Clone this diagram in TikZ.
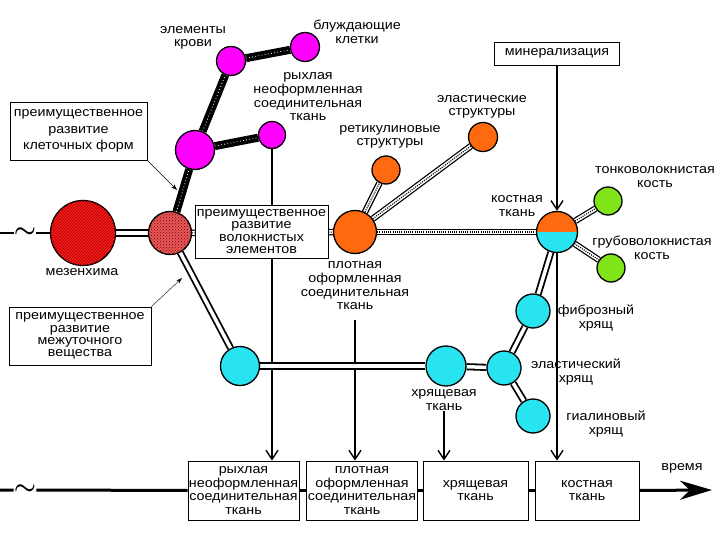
\documentclass[tikz,border=0pt]{standalone}
\usepackage{fontspec}
\setmainfont[FakeStretch=1.1]{Liberation Sans}
\usepackage{tikz}
\usetikzlibrary{arrows.meta,patterns,backgrounds}
\definecolor{mag}{RGB}{255,0,255}
\definecolor{orng}{RGB}{255,106,16}
\definecolor{cyn}{RGB}{40,228,240}
\definecolor{grn}{RGB}{128,228,24}
\definecolor{mesred}{RGB}{255,28,28}
\definecolor{dotred}{RGB}{232,88,88}
\tikzset{cell/.style={draw,circle,line width=1.3pt,inner sep=0pt}}
\tikzset{plain/.style={draw,line width=0.8pt,fill=white,align=center,inner sep=1pt}}
\tikzset{lbl/.style={align=center,inner sep=0pt}}
\tikzset{cellline/.style={line width=8pt,draw=black,postaction={draw=white,line width=0.8pt,dash pattern=on 0.8pt off 2.4pt}}}
\tikzset{fibre/.style={line width=6.5pt,draw=black,postaction={draw=white,line width=4pt},postaction={draw=black,line width=1.2pt,dash pattern=on 1pt off 1.2pt}}}
\tikzset{substance/.style={double,double distance=3.5pt,line width=1.8pt}}
\tikzset{twin/.style={double,double distance=4.5pt,line width=2pt}}
\tikzset{feed/.style={line width=1.4pt,-{Straight Barb[length=9pt,width=12pt]}}}
\tikzset{hint/.style={line width=0.4pt,-{Stealth[length=6pt,width=4pt]}}}

\begin{document}
\begin{tikzpicture}[x=1pt,y=-1pt,font=\fontsize{13}{13.7}\selectfont]
    \useasboundingbox (0,0) rectangle (720,540);
    \node [cell,minimum size=65pt,fill=mesred,postaction={pattern=north east lines,pattern color=red!60!black}] (mes) at (83,233) {};
    \node [cell,minimum size=43pt,fill=dotred,postaction={pattern=crosshatch dots,pattern color=red!45!black}] (red2) at (170,233) {};
    \node [cell,minimum size=39pt,fill=mag] (mg1) at (195,150) {};
    \node [cell,minimum size=29pt,fill=mag] (mg2) at (231,61) {};
    \node [cell,minimum size=29pt,fill=mag] (mg3) at (305,47) {};
    \node [cell,minimum size=27pt,fill=mag] (mg4) at (272,135) {};
    \node [cell,minimum size=43pt,fill=orng] (or1) at (355,232) {};
    \node [cell,minimum size=28pt,fill=orng] (or2) at (386,170) {};
    \node [cell,minimum size=29pt,fill=orng] (or3) at (483,137) {};
    \node [cell,minimum size=41pt,fill=cyn,path picture={\fill[orng] (path picture bounding box.north west) rectangle (path picture bounding box.east);}] (kost) at (557,232) {};
    \node [cell,minimum size=28pt,fill=grn] (gr1) at (608,201) {};
    \node [cell,minimum size=28pt,fill=grn] (gr2) at (611,268) {};
    \node [cell,minimum size=39pt,fill=cyn] (cy1) at (240,366) {};
    \node [cell,minimum size=40pt,fill=cyn] (cy2) at (446,366) {};
    \node [cell,minimum size=34pt,fill=cyn] (cy3) at (504,368) {};
    \node [cell,minimum size=34pt,fill=cyn] (cy4) at (533,311) {};
    \node [cell,minimum size=34pt,fill=cyn] (cy5) at (533,416) {};

    \node [plain,minimum width=125pt,minimum height=23pt] (minbox) at (557,53.5) {минерализация};
    \node [plain,minimum width=137pt,minimum height=58pt,font=\fontsize{13}{16.5}\selectfont] (cellbox) at (78.5,131) {преимущественное\\развитие\\клеточных форм};
    \node [plain,minimum width=133pt,minimum height=53pt,font=\fontsize{13}{12.6}\selectfont] (fibbox) at (261.5,231.5) {преимущественное\\развитие\\волокнистых\\элементов};
    \node [plain,minimum width=142pt,minimum height=58pt,font=\fontsize{13}{12.4}\selectfont] (matbox) at (80,336) {преимущественное\\развитие\\межуточного\\вещества};
    \node [plain,minimum width=111pt,minimum height=59pt] (b1) at (243.5,490.5) {рыхлая\\неоформленная\\соединительная\\ткань};
    \node [plain,minimum width=110pt,minimum height=59pt] (b2) at (362,490.5) {плотная\\оформленная\\соединительная\\ткань};
    \node [plain,minimum width=105pt,minimum height=59pt] (b3) at (475.5,490.5) {хрящевая\\ткань};
    \node [plain,minimum width=104pt,minimum height=59pt] (b4) at (587,490.5) {костная\\ткань};

    \node [lbl] (lblblood) at (193,38) {элементы\\крови};
    \node [lbl] (lblwander) at (357,32) {блуждающие\\клетки};
    \node [lbl] (lblloose) at (308,97) {рыхлая\\неоформленная\\соединительная\\ткань};
    \node [lbl] (lblret) at (390,137) {ретикулиновые\\структуры};
    \node [lbl] (lblelast) at (482,107) {эластические\\структуры};
    \node [lbl] (lblthin) at (655,177) {тонковолокнистая\\кость};
    \node [lbl] (lblbone) at (517,206) {костная\\ткань};
    \node [lbl] (lblcoarse) at (652,248) {грубоволокнистая\\кость};
    \node [lbl] (lblmes) at (82,272) {мезенхима};
    \node [lbl] (lbldense) at (355,286) {плотная\\оформленная\\соединительная\\ткань};
    \node [lbl] (lblcart) at (444,400) {хрящевая\\ткань};
    \node [lbl] (lblfibr) at (596,318) {фиброзный\\хрящ};
    \node [lbl] (lblelcart) at (576,372) {эластический\\хрящ};
    \node [lbl] (lblhyal) at (606,424) {гиалиновый\\хрящ};
    \node [lbl] (lbltime) at (682,468) {время};

    \node [inner sep=0pt,font=\Huge\boldmath] (tl1) at (25,233) {$\sim$};
    \node [inner sep=0pt,font=\Huge\boldmath] (tl2) at (25,490) {$\sim$};
    \coordinate (s1) at (0,233);
    \coordinate (s2) at (0,490);
    \coordinate (tend) at (712,490);
    \coordinate (hc1) at (177,190);
    \coordinate (hc2) at (182,278);

    \begin{scope}[on background layer]
        \draw [feed] (mg4.south) -- (mg4.south |- b1.north);
        \draw [feed] ([yshift=-10pt]lbldense.south) -- (lbldense.south |- b2.north);
        \draw [feed] (lblcart.south) -- (lblcart.south |- b3.north);
        \draw [feed] (kost.south) -- (kost.south |- b4.north);
        \draw [feed] (minbox.south) -- (kost.north);
        \draw [line width=2pt] (s1) -- (tl1.west) (tl1.east) -- (mes);
        \draw [twin] (mes) -- (red2);
        \draw [cellline] (red2) -- (mg1);
        \draw [cellline] (mg1) -- (mg2);
        \draw [cellline] (mg2) -- (mg3);
        \draw [cellline] (mg1) -- (mg4);
        \draw [fibre] (red2) -- (or1);
        \draw [fibre] (or1) -- (kost);
        \draw [fibre] (or1) -- (or2);
        \draw [fibre] (or1) -- (or3);
        \draw [fibre] (kost) -- (gr1);
        \draw [fibre] (kost) -- (gr2);
        \draw [substance] (kost) -- (cy4);
        \draw [substance] (red2) -- (cy1);
        \draw [substance] (cy1) -- (cy2);
        \draw [substance] (cy2) -- (cy3);
        \draw [substance] (cy3) -- (cy4);
        \draw [substance] (cy3) -- (cy5);
        \draw [line width=3pt] (s2) -- (tl2.west) (tl2.east) -- (b1.west);
        \draw [line width=3pt] (b1.east) -- (b2.west) (b2.east) -- (b3.west) (b3.east) -- (b4.west);
        \draw [line width=3pt,-{Stealth[length=32pt,width=19pt,inset=10pt]}] (b4.east) -- (tend);
    \end{scope}
    \draw [hint] (cellbox.south east) -- (hc1);
    \draw [hint] (matbox.north east) -- (hc2);
\end{tikzpicture}
\end{document}
